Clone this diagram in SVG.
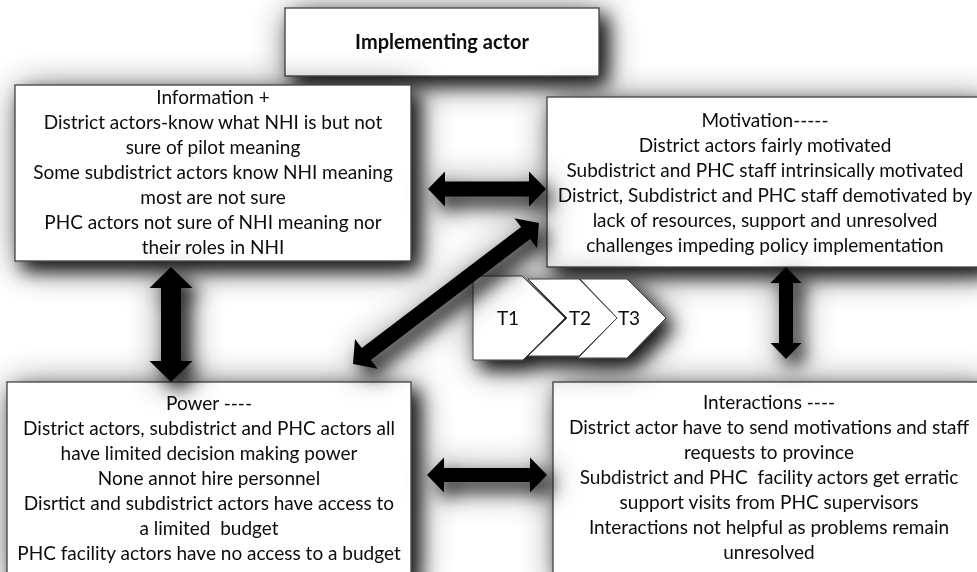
<svg xmlns="http://www.w3.org/2000/svg" width="977" height="572" viewBox="0 0 977 572">
<defs>
<filter id="sh" filterUnits="userSpaceOnUse" x="-100" y="-100" width="1200" height="800">
<feGaussianBlur in="SourceAlpha" stdDeviation="9" result="b1"/>
<feOffset in="b1" dx="8" dy="9" result="o1"/>
<feComponentTransfer in="o1" result="s1"><feFuncA type="linear" slope="0.85"/></feComponentTransfer>
<feGaussianBlur in="SourceAlpha" stdDeviation="18" result="b2"/>
<feOffset in="b2" dx="5" dy="5" result="o2"/>
<feComponentTransfer in="o2" result="s2"><feFuncA type="linear" slope="0.6"/></feComponentTransfer>
<feMerge><feMergeNode in="s2"/><feMergeNode in="s1"/><feMergeNode in="SourceGraphic"/></feMerge>
</filter>
<style>
.box{fill:#fff;stroke:#404040;stroke-width:1.3}
.t{font-family:Lato,"Open Sans","Liberation Sans",sans-serif;font-size:19px;fill:#0a0a0a;text-anchor:middle;white-space:pre}
.b{font-weight:bold;font-size:20px}
.arr{fill:#000}
.chev{fill:#fff;stroke:#404040;stroke-width:1}
</style>
</defs>
<rect width="977" height="572" fill="#fff"/>
<g id="implementing" filter="url(#sh)">
<rect class="box" x="285" y="8" width="314" height="68"/>
<text class="t b" x="442" y="49">Implementing actor</text>
</g>
<g id="information" filter="url(#sh)">
<rect class="box" x="15" y="85" width="396" height="176"/>
<text class="t" x="213" y="104">Information +</text>
<text class="t" x="213" y="129">District actors-know what NHI is but not</text>
<text class="t" x="213" y="154">sure of pilot meaning</text>
<text class="t" x="213" y="179">Some subdistrict actors know NHI meaning</text>
<text class="t" x="213" y="204">most are not sure</text>
<text class="t" x="213" y="229">PHC actors not sure of NHI meaning nor</text>
<text class="t" x="213" y="254">their roles in NHI</text>
</g>
<g id="motivation" filter="url(#sh)">
<rect class="box" x="547" y="97" width="437" height="170"/>
<text class="t" x="765" y="127">Motivation-----</text>
<text class="t" x="765" y="152">District actors fairly motivated</text>
<text class="t" x="765" y="177">Subdistrict and PHC staff intrinsically motivated</text>
<text class="t" x="765" y="202">District, Subdistrict and PHC staff demotivated by</text>
<text class="t" x="765" y="227">lack of resources, support and unresolved</text>
<text class="t" x="765" y="252">challenges impeding policy implementation</text>
</g>
<g id="power" filter="url(#sh)">
<rect class="box" x="7" y="382" width="404" height="200"/>
<text class="t" x="209" y="410">Power ----</text>
<text class="t" x="209" y="435">District actors, subdistrict and PHC actors all</text>
<text class="t" x="209" y="460">have limited decision making power</text>
<text class="t" x="209" y="485">None annot hire personnel</text>
<text class="t" x="209" y="510">Disrtict and subdistrict actors have access to</text>
<text class="t" x="209" y="535">a limited  budget</text>
<text class="t" x="209" y="560">PHC facility actors have no access to a budget</text>
</g>
<g id="interactions" filter="url(#sh)">
<rect class="box" x="553" y="382" width="432" height="200"/>
<text class="t" x="769" y="409">Interactions ----</text>
<text class="t" x="769" y="434">District actor have to send motivations and staff</text>
<text class="t" x="769" y="459">requests to province</text>
<text class="t" x="769" y="484">Subdistrict and PHC  facility actors get erratic</text>
<text class="t" x="769" y="509">support visits from PHC supervisors</text>
<text class="t" x="769" y="534">Interactions not helpful as problems remain</text>
<text class="t" x="769" y="559">unresolved</text>
</g>
<g id="timeline" filter="url(#sh)">
<polygon class="chev" points="580,279 627,279 666,318 627,358 578,358 617,318"/>
<polygon class="chev" points="528,279 579,279 617,318 579,356 528,356 567,318"/>
<polygon class="chev" points="473,276 522,276 565,318 523,360 473,360"/>
<text class="t" x="508" y="325">T1</text>
<text class="t" x="580" y="325">T2</text>
<text class="t" x="629" y="325">T3</text>
</g>
<g id="connectors" filter="url(#sh)">
<polygon class="arr" points="428,189 445,171.5 445,181.5 529,181.5 529,171.5 546,189 529,206.5 529,196.5 445,196.5 445,206.5"/>
<polygon class="arr" points="427,475 444,457.5 444,468 530,468 530,457.5 547,475 530,492.5 530,482 444,482 444,492.5"/>
<polygon class="arr" points="171,267 192.5,288 181,288 181,361 192.5,361 171,382 149.5,361 161,361 161,288 149.5,288"/>
<polygon class="arr" points="786,267 801.5,283 793,283 793,343 801.5,343 786,359 770.5,343 779,343 779,283 770.5,283"/>
<polygon class="arr" transform="translate(353,364) rotate(-37.17)" points="0,0 16.7,-18.7 16.7,-7.5 216.7,-7.5 216.7,-18.7 233.4,0 216.7,18.7 216.7,7.5 16.7,7.5 16.7,18.7"/>
</g>
</svg>
